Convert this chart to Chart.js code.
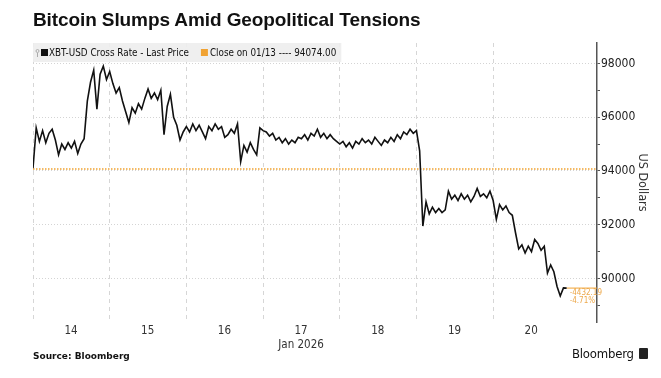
<!DOCTYPE html>
<html>
<head>
<meta charset="utf-8">
<script src="https://cdn.jsdelivr.net/npm/chart.js@4"></script>
<style>
  html, body { margin: 0; padding: 0; background: #fff; }
  #wrap { position: relative; width: 661px; height: 378px; overflow: hidden; }
  #myChart { position: absolute; left: 0; top: 0; }
  .txt { position: absolute; white-space: nowrap; color: #111; }
  #title { left: 33px; top: 9px; font: bold 19px "Liberation Sans", Arial, sans-serif; letter-spacing: -0.1px; }
  #source { left: 33px; top: 351px; font: bold 9px "DejaVu Sans", sans-serif; }
  #brand { left: 572px; top: 346px; font: 13px "DejaVu Sans Condensed", "DejaVu Sans", sans-serif; letter-spacing: -0.2px; }
  #brand span { display: inline-block; width: 9px; height: 11px; background: #222; margin-left: 5px; vertical-align: -1px; border-radius: 1px; }
</style>
</head>
<body>
<div id="wrap">
  <canvas id="myChart" width="661" height="378"></canvas>
  <div class="txt" id="title">Bitcoin Slumps Amid Geopolitical Tensions</div>
  <div class="txt" id="source">Source: Bloomberg</div>
  <div class="txt" id="brand">Bloomberg<span></span></div>
</div>
<script>
const myChart = document.querySelector('#myChart');

// hourly XBT-USD from Jan 14 00:00
const prices = [
  94100, 95600, 95100, 95500, 95050, 95400, 95550, 95150, 94600, 95000, 94800, 95050,
  94850, 95100, 94650, 95000, 95200, 96600, 97300, 97750, 96300, 97600, 97900, 97400,
  97700, 97250, 96900, 97100, 96600, 96200, 95800, 96350, 96150, 96500, 96300, 96700,
  97050, 96700, 96900, 96650, 97000, 95350, 96400, 96850, 96000, 95700, 95150, 95450,
  95650, 95450, 95750, 95500, 95700, 95450, 95200, 95650, 95500, 95750, 95550, 95650,
  95250, 95350, 95550, 95400, 95750, 94350, 94950, 94700, 95050, 94800, 94600, 95600,
  95500, 95450, 95300, 95400, 95150, 95250, 95050, 95200, 95000, 95150, 95050, 95250,
  95200, 95350, 95150, 95400, 95300, 95550, 95250, 95400, 95200, 95350, 95200, 95100,
  95000, 95100, 94900, 95050, 94850, 95100, 95000, 95200, 95050, 95150, 95000, 95250,
  95100, 94950, 95150, 95050, 95250, 95100, 95350, 95200, 95450, 95350, 95550, 95400,
  95500, 94750, 91950, 92850, 92400, 92650, 92450, 92600, 92450, 92550, 93250, 92950,
  93100, 92900, 93150, 92950, 93100, 92850, 93050, 93350, 93050, 93150, 93000, 93250,
  92900, 92200, 92750, 92550, 92700, 92450, 92350, 91700, 91100, 91250, 90950, 91200,
  91000, 91450, 91300, 91050, 91200, 90200, 90500, 90250, 89700, 89350, 89650, 89641.81
];

const closePrice = 94074.00;
const dayLabels = ['14', '15', '16', ['17', 'Jan 2026'], '18', '19', '20'];
const dayStarts = [0, 24, 48, 72, 96, 120, 144];
const yTicks = [89000, 90000, 91000, 92000, 93000, 94000, 95000, 96000, 97000, 98000];
const legendLabels = ['XBT-USD Cross Rate - Last Price', 'Close on 01/13 ---- 94074.00'];
const changeLabels = ['-4432.19', '-4.71%'];

const xMax = 176.5;
const orange = '#f0a232';

const priceData = prices.map((p, i) => ({ x: i, y: p }));
const closeData = [{ x: 0, y: closePrice }, { x: xMax, y: closePrice }];
const lastData = [{ x: prices.length - 1, y: prices[prices.length - 1] }, { x: xMax, y: prices[prices.length - 1] }];

const boxPlugin = {
  id: 'boxPlugin',
  afterDatasetsDraw(chart) {
    const { ctx, chartArea, scales } = chart;
    ctx.save();
    // change label at the end of the line
    const lx = scales.x.getPixelForValue(prices.length - 1) + 3;
    const ly = scales.y.getPixelForValue(prices[prices.length - 1]);
    ctx.fillStyle = '#eda84a';
    ctx.font = '8px "DejaVu Sans Condensed", sans-serif';
    ctx.textBaseline = 'top';
    ctx.fillText(changeLabels[0], lx, ly + 1);
    ctx.fillText(changeLabels[1], lx, ly + 9);

    // legend strip
    const top = chartArea.top;
    ctx.fillStyle = 'rgba(238,238,238,0.92)';
    ctx.font = '9.8px "DejaVu Sans Condensed", sans-serif';
    const w1 = ctx.measureText(legendLabels[0]).width;
    const w2 = ctx.measureText(legendLabels[1]).width;
    const x0 = chartArea.left;
    const boxW = 16 + w1 + 12 + 9 + w2 + 5;
    ctx.fillRect(x0, top, boxW, 19);
    const cy = top + 10;
    ctx.textBaseline = 'middle';
    ctx.strokeStyle = '#aaa';
    ctx.lineWidth = 1;
    ctx.beginPath();
    ctx.arc(x0 + 4.5, cy - 2, 1.5, 0, Math.PI * 2);
    ctx.moveTo(x0 + 4.5, cy);
    ctx.lineTo(x0 + 4.5, cy + 4);
    ctx.stroke();
    ctx.fillStyle = '#111';
    ctx.fillRect(x0 + 8, cy - 4, 7, 7);
    ctx.fillText(legendLabels[0], x0 + 16, cy);
    const x2 = x0 + 16 + w1 + 12;
    ctx.fillStyle = orange;
    ctx.fillRect(x2, cy - 4, 7, 7);
    ctx.fillStyle = '#111';
    ctx.fillText(legendLabels[1], x2 + 9, cy);
    ctx.restore();
  }
};

const config = {
  type: 'line',
  data: {
    datasets: [
      { data: priceData, borderColor: '#111', borderWidth: 1.6, pointRadius: 0, tension: 0 },
      { data: lastData, borderColor: orange, borderWidth: 1, pointRadius: 0 },
      { data: closeData, borderColor: orange, borderWidth: 1.5, borderDash: [1.5, 1.5], pointRadius: 0 }
    ]
  },
  options: {
    responsive: false,
    animation: false,
    layout: { padding: { left: 33, top: 43, right: 0, bottom: 0 } },
    plugins: { legend: { display: false }, tooltip: { enabled: false } },
    scales: {
      x: {
        type: 'linear',
        min: 0,
        max: xMax,
        afterBuildTicks: (s) => { s.ticks = dayStarts.map(v => ({ value: v })); },
        afterFit: (s) => { s.height = 56; },
        ticks: {
          callback: (v, i) => dayLabels[i],
          labelOffset: 38,
          padding: 2,
          autoSkip: false,
          maxRotation: 0,
          color: '#333',
          font: { family: '"DejaVu Sans Condensed", sans-serif', size: 11.5 }
        },
        grid: { color: '#d6d6d6', lineWidth: 1, drawTicks: false },
        border: { display: false, dash: [4, 4] }
      },
      y: {
        position: 'right',
        min: 88380,
        max: 98760,
        afterBuildTicks: (s) => { s.ticks = yTicks.map(v => ({ value: v })); },
        afterFit: (s) => { s.width = 64; },
        ticks: {
          callback: (v) => (v % 2000 === 0 ? String(v) : ''),
          padding: 1,
          color: '#222',
          font: { family: '"DejaVu Sans Condensed", sans-serif', size: 12 }
        },
        grid: {
          color: (c) => (c.tick && c.tick.value % 2000 === 0 ? '#d4d4d4' : 'rgba(0,0,0,0)'),
          tickColor: '#555',
          tickLength: 3,
          lineWidth: 1
        },
        border: { display: true, color: '#555', width: 1.5, dash: [1, 2] },
        title: {
          display: true,
          text: 'US Dollars',
          color: '#333',
          padding: { top: 11, bottom: 0 },
          font: { family: '"DejaVu Sans Condensed", sans-serif', size: 12.5 }
        }
      }
    }
  },
  plugins: [boxPlugin]
};

new Chart(myChart, config);
</script>
</body>
</html>
